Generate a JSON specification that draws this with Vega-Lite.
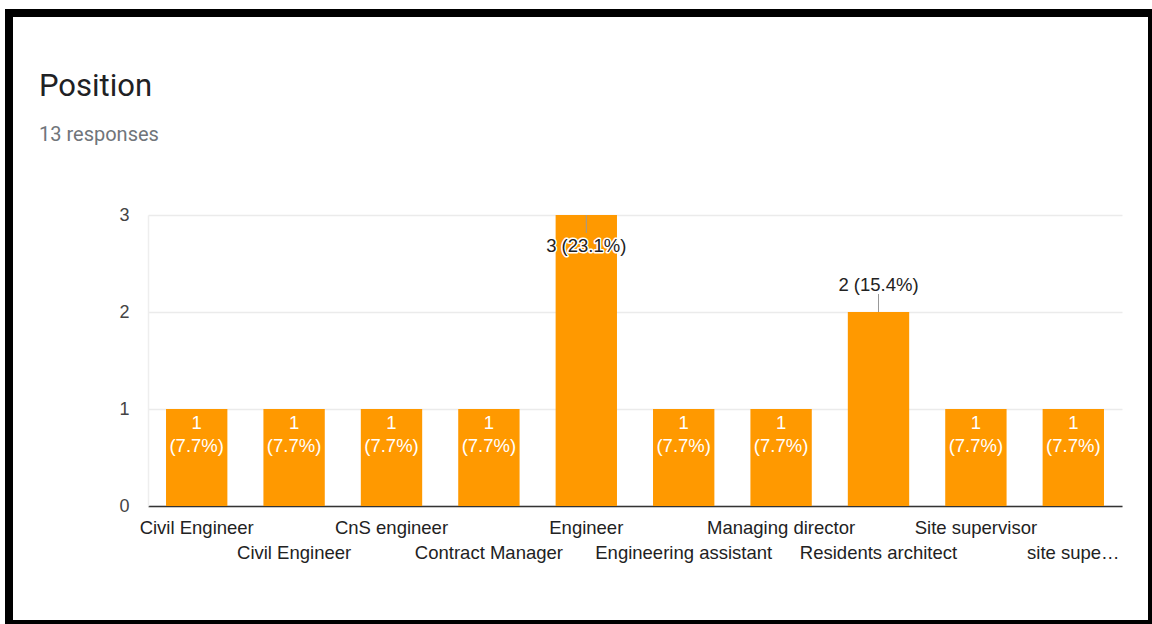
{
  "$schema": "https://vega.github.io/schema/vega-lite/v6.json",
  "width": 1143,
  "height": 611,
  "autosize": {"type": "none"},
  "padding": {"left": 9, "top": 13, "right": 0, "bottom": 0},
  "background": "white",
  "config": {
    "view": {"stroke": "#000000", "strokeWidth": 8},
    "font": "Liberation Sans"
  },
  "title": {
    "text": "Position",
    "subtitle": "13 responses",
    "anchor": "start",
    "frame": "group",
    "dx": 30,
    "offset": -133,
    "font": "Roboto",
    "fontSize": 31,
    "fontWeight": "normal",
    "color": "#202124",
    "subtitleFont": "Roboto",
    "subtitleFontSize": 20,
    "subtitleColor": "#70757a",
    "subtitlePadding": 22
  },
  "data": {
    "values": [
      {"position": "Civil Engineer", "count": 1, "label": "1 (7.7%)"},
      {"position": "Civil Engineer ", "count": 1, "label": "1 (7.7%)"},
      {"position": "CnS engineer", "count": 1, "label": "1 (7.7%)"},
      {"position": "Contract Manager", "count": 1, "label": "1 (7.7%)"},
      {"position": "Engineer", "count": 3, "label": "3 (23.1%)"},
      {"position": "Engineering assistant", "count": 1, "label": "1 (7.7%)"},
      {"position": "Managing director", "count": 1, "label": "1 (7.7%)"},
      {"position": "Residents architect", "count": 2, "label": "2 (15.4%)"},
      {"position": "Site supervisor", "count": 1, "label": "1 (7.7%)"},
      {"position": "site supervisor", "count": 1, "label": "1 (7.7%)"}
    ]
  },
  "encoding": {
    "x": {
      "field": "position",
      "type": "nominal",
      "sort": null,
      "scale": {"range": [139, 1113], "paddingInner": 0.37, "paddingOuter": 0.185},
      "axis": {
        "title": null,
        "orient": "bottom",
        "offset": -118,
        "labelAngle": 0,
        "labelFont": "Liberation Sans",
        "labelFontSize": 18.5,
        "labelColor": "#222222",
        "labelLimit": 400,
        "labelOverlap": false,
        "labelBaseline": "top",
        "labelPadding": {
          "condition": {
            "test": "indexof(['Civil Engineer ', 'Contract Manager', 'Engineering assistant', 'Residents architect', 'site supervisor'], datum.value) >= 0",
            "value": 37.5
          },
          "value": 12.5
        },
        "labelExpr": "datum.value == 'site supervisor' ? 'site supe…' : trim(datum.label)",
        "ticks": false,
        "tickSize": 0,
        "domainColor": "#333333",
        "domainWidth": 1.5,
        "grid": false
      }
    },
    "y": {
      "field": "count",
      "type": "quantitative",
      "scale": {"domain": [0, 3], "range": [493, 202], "nice": false},
      "axis": {
        "title": null,
        "offset": -139,
        "values": [0, 1, 2, 3],
        "format": "d",
        "labelFont": "Liberation Sans",
        "labelFontSize": 18,
        "labelColor": "#444444",
        "labelPadding": 19,
        "ticks": false,
        "tickSize": 0,
        "domain": true,
        "domainColor": "#eeeeee",
        "domainWidth": 1.5,
        "grid": true,
        "gridColor": "#ebebeb",
        "gridWidth": 1.5
      }
    }
  },
  "layer": [
    {"mark": {"type": "bar", "color": "#ff9900"}},
    {
      "transform": [{"filter": "datum.count == 1"}],
      "mark": {"type": "text", "align": "center", "baseline": "top", "dy": 4.5, "fontSize": 18.5, "lineHeight": 23, "lineBreak": " ", "color": "#ffffff", "font": "Liberation Sans"},
      "encoding": {"text": {"field": "label"}}
    },
    {
      "transform": [{"filter": "datum.count == 3"}],
      "mark": {"type": "rule", "color": "#999999", "strokeWidth": 1, "y2Offset": 18},
      "encoding": {"y2": {"field": "count"}}
    },
    {
      "transform": [{"filter": "datum.count == 2"}],
      "mark": {"type": "rule", "color": "#999999", "strokeWidth": 1, "y2Offset": -18},
      "encoding": {"y2": {"field": "count"}}
    },
    {
      "transform": [{"filter": "datum.count == 3"}],
      "mark": {"type": "text", "align": "center", "baseline": "alphabetic", "dy": 37, "fontSize": 18.5, "font": "Liberation Sans", "color": "#ffffff", "stroke": "#ffffff", "strokeWidth": 3, "strokeJoin": "round"},
      "encoding": {"text": {"field": "label"}}
    },
    {
      "transform": [{"filter": "datum.count == 3"}],
      "mark": {"type": "text", "align": "center", "baseline": "alphabetic", "dy": 37, "fontSize": 18.5, "font": "Liberation Sans", "color": "#222222"},
      "encoding": {"text": {"field": "label"}}
    },
    {
      "transform": [{"filter": "datum.count == 2"}],
      "mark": {"type": "text", "align": "center", "baseline": "alphabetic", "dy": -21.5, "fontSize": 18.5, "font": "Liberation Sans", "color": "#222222"},
      "encoding": {"text": {"field": "label"}}
    }
  ]
}
